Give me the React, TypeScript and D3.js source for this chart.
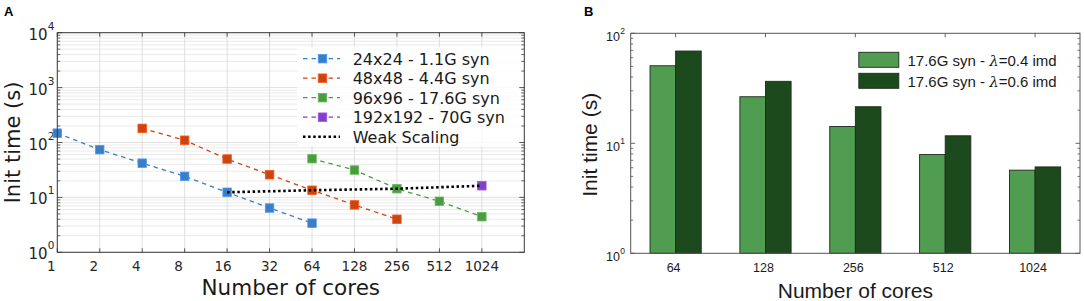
import React from "react";
import * as d3 from "d3";

// ---------- Panel A data ----------
const coresTicksA = [1, 2, 4, 8, 16, 32, 64, 128, 256, 512, 1024];
const yTicksA = [1, 10, 100, 1000, 10000];
const cores24 = [1, 2, 4, 8, 16, 32, 64];
const time24 = [148, 74, 42, 24.2, 12.4, 6.4, 3.4];
const cores48 = [4, 8, 16, 32, 64, 128, 256];
const time48 = [181, 110, 50, 25.9, 13.5, 7.3, 4.0];
const cores96 = [64, 128, 256, 512, 1024];
const time96 = [50.7, 31.5, 14.4, 8.5, 4.45];
const cores192 = [1024];
const time192 = [16.3];
const coresWeak = [16, 64, 256, 1024];
const timeWeak = [12.4, 13.5, 14.4, 16.3];
const seriesNames = ["24x24 - 1.1G syn", "48x48 - 4.4G syn", "96x96 - 17.6G syn", "192x192 - 70G syn"];
const weakName = "Weak Scaling";

// ---------- Panel B data ----------
const coresB = ["64", "128", "256", "512", "1024"];
const timeLambda04 = [50.7, 26.5, 14.2, 7.9, 5.7];
const timeLambda06 = [69, 36.6, 21.5, 11.7, 6.1];
const yTicksB = [1, 10, 100];
const legendB = ["0.4", "0.6"];

const colorsA = ["#3b7ec6", "#cb4513", "#4c9b43", "#8041c9"];
const colorsB = ["#509c50", "#1c4a1c"];

const sans = "'DejaVu Sans', sans-serif";
const arial = "'Liberation Sans', Arial, sans-serif";

function minorTicks(lo: number, hi: number) {
  const out: number[] = [];
  for (let d = lo; d < hi; d *= 10) for (let k = 2; k <= 9; k++) out.push(d * k);
  return out;
}

function PanelA() {
  const L = 57.3, R = 524.3, T = 32.7, B = 252.3;
  const x = d3.scaleLog().base(2).domain([1, 2048]).range([L, R]);
  const y = d3.scaleLog().domain([1, 10000]).range([B, T]);
  const minors = minorTicks(1, 10000);
  const seriesX = [cores24, cores48, cores96, cores192];
  const seriesY = [time24, time48, time96, time192];
  const line = d3.line<[number, number]>().x((d) => x(d[0])).y((d) => y(d[1]));
  const ms = 8.5;
  const legX = 303, legY0 = 58.7, legDy = 19.5;
  return (
    <g>
      <rect x={L} y={T} width={R - L} height={B - T} fill="#fff" />
      {minors.map((v) => (
        <line key={"mg" + v} x1={L} x2={R} y1={y(v)} y2={y(v)} stroke="#e4e4e4" strokeWidth={0.8} />
      ))}
      {yTicksA.map((v) => (
        <line key={"yg" + v} x1={L} x2={R} y1={y(v)} y2={y(v)} stroke="#d8d8d8" strokeWidth={0.8} />
      ))}
      {coresTicksA.map((v) => (
        <line key={"xg" + v} x1={x(v)} x2={x(v)} y1={T} y2={B} stroke="#d8d8d8" strokeWidth={0.8} />
      ))}
      {/* legend background */}
      <rect x={297} y={47} width={224} height={99} fill="#fff" fillOpacity={0.8} />
      {/* ticks */}
      {minors.map((v) => (
        <g key={"mt" + v}>
          <line x1={L} x2={L + 3} y1={y(v)} y2={y(v)} stroke="#444" strokeWidth={0.8} />
          <line x1={R} x2={R - 3} y1={y(v)} y2={y(v)} stroke="#444" strokeWidth={0.8} />
        </g>
      ))}
      {yTicksA.map((v) => (
        <g key={"yt" + v}>
          <line x1={L} x2={L + 5} y1={y(v)} y2={y(v)} stroke="#444" strokeWidth={0.9} />
          <line x1={R} x2={R - 5} y1={y(v)} y2={y(v)} stroke="#444" strokeWidth={0.9} />
          <text x={47.5} y={y(v) + 7} fontFamily={sans} fontSize={15} textAnchor="end" fill="#262626">10</text>
          <text x={47.7} y={y(v) - 3} fontFamily={sans} fontSize={10.5} fill="#262626">{Math.round(Math.log10(v))}</text>
        </g>
      ))}
      {coresTicksA.map((v) => (
        <g key={"xt" + v}>
          <line x1={x(v)} x2={x(v)} y1={B} y2={B - 4} stroke="#444" strokeWidth={0.9} />
          <line x1={x(v)} x2={x(v)} y1={T} y2={T + 4} stroke="#444" strokeWidth={0.9} />
          <text x={x(v) - (v < 16 ? 6 : v < 32 ? 4 : 0)} y={270.5} fontFamily={sans} fontSize={13.5} textAnchor="middle" fill="#262626">{v}</text>
        </g>
      ))}
      {/* series */}
      {seriesX.map((xs, i) => {
        const pts = xs.map((c, j) => [c, seriesY[i][j]] as [number, number]);
        return (
          <g key={"s" + i}>
            <path d={line(pts) || ""} fill="none" stroke={colorsA[i]} strokeWidth={1.3} strokeDasharray="4.5 4" />
            {pts.map((p, j) => (
              <rect key={j} x={x(p[0]) - ms / 2} y={y(p[1]) - ms / 2} width={ms} height={ms} fill={colorsA[i]} stroke={d3.color(colorsA[i])!.brighter(0.6).toString()} strokeWidth={0.8} />
            ))}
          </g>
        );
      })}
      <path d={line(coresWeak.map((c, j) => [c, timeWeak[j]] as [number, number])) || ""} fill="none" stroke="#000" strokeWidth={2.6} strokeDasharray="2.5 2.6" />
      {/* frame */}
      <rect x={L} y={T} width={R - L} height={B - T} fill="none" stroke="#3a3a3a" strokeWidth={1} />
      {/* legend */}
      {seriesNames.map((n, i) => {
        const ly = legY0 + i * legDy;
        return (
          <g key={"lg" + i}>
            <line x1={legX} x2={legX + 37} y1={ly} y2={ly} stroke={colorsA[i]} strokeWidth={1.3} strokeDasharray="4.5 4" />
            <rect x={legX + 19.5 - ms / 2} y={ly - ms / 2} width={ms} height={ms} fill={colorsA[i]} stroke={d3.color(colorsA[i])!.brighter(0.6).toString()} strokeWidth={0.8} />
            <text x={352.7} y={ly + 5.8} fontFamily={sans} fontSize={16} fill="#1a1a1a">{n}</text>
          </g>
        );
      })}
      <line x1={legX} x2={legX + 37} y1={legY0 + 4 * legDy} y2={legY0 + 4 * legDy} stroke="#000" strokeWidth={2.6} strokeDasharray="2.5 2.6" />
      <text x={352.7} y={legY0 + 4 * legDy + 5.8} fontFamily={sans} fontSize={16} fill="#1a1a1a">{weakName}</text>
      {/* axis labels */}
      <text x={(L + R) / 2} y={295} fontFamily={sans} fontSize={21.5} textAnchor="middle" fill="#1a1a1a">Number of cores</text>
      <text transform={`translate(20,${(T + B) / 2}) rotate(-90)`} fontFamily={sans} fontSize={21} textAnchor="middle" fill="#1a1a1a">Init time (s)</text>
      <text x={4} y={15.5} fontFamily={arial} fontSize={13} fontWeight="bold" fill="#000">A</text>
    </g>
  );
}

function PanelB() {
  const L = 630.7, R = 1080, T = 33.3, B = 253.3;
  const x = d3.scaleBand<string>().domain(coresB).range([L, R]).paddingInner(0.43).paddingOuter(0.215);
  const y = d3.scaleLog().domain([1, 100]).range([B, T]);
  const bw = x.bandwidth() / 2;
  const minors = minorTicks(1, 100);
  const series = [timeLambda04, timeLambda06];
  return (
    <g>
      {coresB.map((c, i) => (
        <g key={"b" + c}>
          {series.map((s, k) => (
            <rect key={k} x={x(c)! + k * bw} y={y(s[i])} width={bw} height={B - y(s[i])} fill={colorsB[k]} stroke="#1f2a1f" strokeWidth={0.9} />
          ))}
        </g>
      ))}
      {minors.map((v) => (
        <g key={"m" + v}>
          <line x1={L} x2={L + 2.5} y1={y(v)} y2={y(v)} stroke="#555" strokeWidth={0.8} />
          <line x1={R} x2={R - 2.5} y1={y(v)} y2={y(v)} stroke="#555" strokeWidth={0.8} />
        </g>
      ))}
      {yTicksB.map((v) => (
        <g key={"yt" + v}>
          <line x1={L} x2={L + 4.5} y1={y(v)} y2={y(v)} stroke="#555" strokeWidth={0.9} />
          <line x1={R} x2={R - 4.5} y1={y(v)} y2={y(v)} stroke="#555" strokeWidth={0.9} />
          <text x={620} y={y(v) + 7.5} fontFamily={arial} fontSize={12.5} textAnchor="end" fill="#1a1a1a">10</text>
          <text x={620.3} y={y(v) + 0.5} fontFamily={arial} fontSize={8.5} fill="#1a1a1a">{Math.round(Math.log10(v))}</text>
        </g>
      ))}
      {coresB.map((c) => {
        const cx = x(c)! + x.bandwidth() / 2;
        return (
          <g key={"xt" + c}>
            <line x1={cx} x2={cx} y1={T} y2={T + 4} stroke="#555" strokeWidth={0.9} />
            <text x={cx - 2} y={271.7} fontFamily={arial} fontSize={12.5} textAnchor="middle" fill="#1a1a1a">{c}</text>
          </g>
        );
      })}
      <rect x={L} y={T} width={R - L} height={B - T} fill="none" stroke="#555" strokeWidth={1} />
      {legendB.map((lam, k) => (
        <g key={"lb" + k}>
          <rect x={858.8} y={52.3 + k * 21} width={40} height={15} fill={colorsB[k]} stroke="#1f2a1f" strokeWidth={0.9} />
          <text x={907.5} y={65.5 + k * 21} fontFamily={arial} fontSize={15} fill="#1a1a1a">
            {"17.6G syn - "}
            <tspan fontFamily="'DejaVu Serif', serif" fontStyle="italic">λ</tspan>
            {"=" + lam + " imd"}
          </text>
        </g>
      ))}
      <text x={(L + R) / 2} y={297.5} fontFamily={arial} fontSize={21} textAnchor="middle" fill="#1a1a1a">Number of cores</text>
      <text transform={`translate(597,${(T + B) / 2 + 1.5}) rotate(-90)`} fontFamily={arial} fontSize={21} textAnchor="middle" fill="#1a1a1a">Init time (s)</text>
      <text x={584} y={15.5} fontFamily={arial} fontSize={13} fontWeight="bold" fill="#000">B</text>
    </g>
  );
}

export default function App() {
  return (
    <svg width={1084} height={301} style={{ position: "absolute", left: 0, top: 0, background: "#fff" }}>
      <rect width={1084} height={301} fill="#fff" />
      <PanelA />
      <PanelB />
    </svg>
  );
}
